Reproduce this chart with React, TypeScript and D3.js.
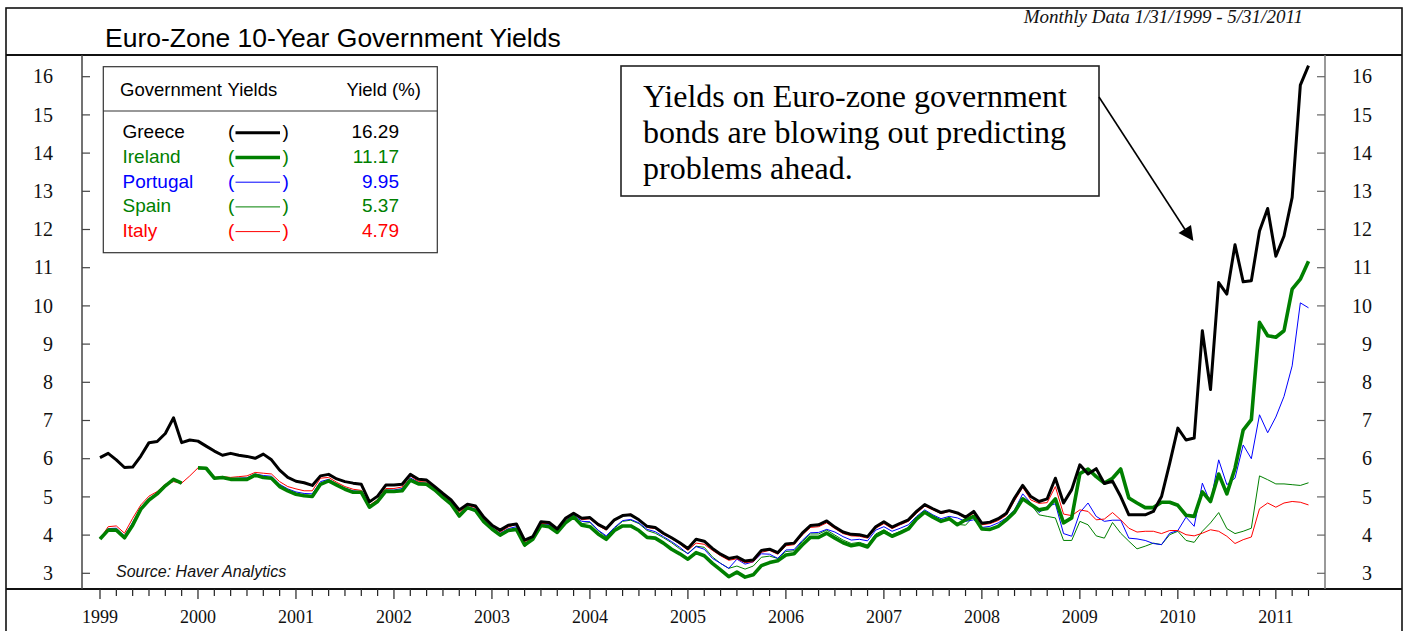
import React from "react";
import * as d3 from "d3";

// Monthly data, Jan 1999 (index 0) .. May 2011 (index 148)
const greece: (number | null)[] = [
  6.03, 6.14, 5.97, 5.77, 5.78, 6.07, 6.42, 6.45, 6.66, 7.07, 6.42, 6.49,
  6.46, 6.33, 6.20, 6.09, 6.14, 6.09, 6.06, 6.01, 6.12, 5.97, 5.70, 5.51,
  5.41, 5.37, 5.30, 5.55, 5.59, 5.47, 5.40, 5.36, 5.33, 4.87, 5.02, 5.31,
  5.31, 5.33, 5.59, 5.46, 5.44, 5.27, 5.09, 4.92, 4.66, 4.81, 4.76, 4.47,
  4.26, 4.13, 4.26, 4.29, 3.87, 3.96, 4.35, 4.33, 4.16, 4.44, 4.57, 4.44,
  4.46, 4.28, 4.17, 4.40, 4.51, 4.53, 4.40, 4.23, 4.20, 4.05, 3.93, 3.80,
  3.65, 3.89, 3.84, 3.65, 3.50, 3.39, 3.43, 3.32, 3.35, 3.60, 3.63, 3.54,
  3.77, 3.79, 4.05, 4.25, 4.27, 4.37, 4.21, 4.08, 4.02, 4.01, 3.96, 4.22,
  4.35, 4.21, 4.31, 4.40, 4.62, 4.80, 4.69, 4.59, 4.64, 4.58, 4.47, 4.62,
  4.31, 4.34, 4.43, 4.57, 4.97, 5.30, 5.01, 4.88, 4.95, 5.49, 4.84, 5.19,
  5.84, 5.60, 5.74, 5.35, 5.41, 5.01, 4.53, 4.53, 4.53, 4.62, 5.01, 5.88,
  6.80, 6.49, 6.54, 9.35, 7.81, 10.61, 10.31, 11.60, 10.63, 10.66, 11.96, 12.55,
  11.30, 11.83, 12.84, 15.78, 16.29,
];

const ireland: (number | null)[] = [
  3.90, 4.13, 4.13, 3.93, 4.26, 4.68, 4.92, 5.08, 5.29, 5.46, 5.36, null,
  5.76, 5.75, 5.49, 5.51, 5.46, 5.46, 5.46, 5.57, 5.51, 5.49, 5.27, 5.16,
  5.07, 5.03, 5.01, 5.33, 5.42, 5.31, 5.20, 5.12, 5.12, 4.73, 4.88, 5.15,
  5.14, 5.16, 5.44, 5.34, 5.33, 5.18, 4.99, 4.81, 4.50, 4.72, 4.64, 4.35,
  4.16, 4.00, 4.12, 4.15, 3.74, 3.89, 4.25, 4.22, 4.07, 4.32, 4.48, 4.26,
  4.22, 4.03, 3.89, 4.12, 4.24, 4.24, 4.12, 3.94, 3.92, 3.79, 3.63, 3.51,
  3.37, 3.54, 3.46, 3.26, 3.09, 2.91, 3.03, 2.90, 2.96, 3.20, 3.28, 3.33,
  3.48, 3.51, 3.74, 3.94, 3.94, 4.05, 3.92, 3.80, 3.72, 3.76, 3.69, 3.97,
  4.09, 3.97, 4.06, 4.16, 4.42, 4.60, 4.47, 4.36, 4.43, 4.27, 4.40, 4.49,
  4.16, 4.15, 4.23, 4.40, 4.60, 4.95, 4.80, 4.66, 4.70, 4.95, 4.32, 4.45,
  5.61, 5.73, 5.53, 5.36, 5.49, 5.73, 4.97, 4.84, 4.72, 4.72, 4.86, 4.86,
  4.78, 4.52, 4.49, 5.13, 4.88, 5.60, 5.08, 5.75, 6.75, 7.02, 9.57, 9.22,
  9.18, 9.35, 10.44, 10.70, 11.17,
];

const portugal: (number | null)[] = [
  3.92, 4.17, 4.18, 3.98, 4.33, 4.72, 4.96, 5.10, 5.30, 5.43, 5.36, null,
  5.76, 5.74, 5.50, 5.51, 5.48, 5.49, 5.50, 5.60, 5.56, 5.54, 5.33, 5.21,
  5.13, 5.09, 5.08, 5.40, 5.46, 5.34, 5.23, 5.16, 5.14, 4.75, 4.90, 5.18,
  5.18, 5.22, 5.50, 5.38, 5.36, 5.21, 5.02, 4.84, 4.55, 4.75, 4.68, 4.39,
  4.20, 4.05, 4.17, 4.22, 3.78, 3.92, 4.29, 4.28, 4.11, 4.38, 4.53, 4.36,
  4.35, 4.13, 3.98, 4.20, 4.38, 4.41, 4.32, 4.15, 4.09, 3.96, 3.83, 3.68,
  3.51, 3.70, 3.63, 3.39, 3.26, 3.13, 3.37, 3.24, 3.30, 3.51, 3.50, 3.39,
  3.61, 3.62, 3.86, 4.06, 4.07, 4.15, 4.08, 3.96, 3.87, 3.89, 3.85, 4.13,
  4.22, 4.10, 4.18, 4.27, 4.49, 4.66, 4.53, 4.43, 4.49, 4.45, 4.36, 4.40,
  4.20, 4.23, 4.32, 4.45, 4.66, 5.08, 4.84, 4.59, 4.75, 4.82, 4.04, 3.97,
  4.59, 4.84, 4.49, 4.36, 4.39, 4.39, 3.92, 3.90, 3.86, 3.78, 3.75, 4.05,
  4.12, 4.47, 4.23, 5.36, 4.84, 5.97, 5.32, 5.49, 6.36, 6.00, 7.15, 6.68,
  7.09, 7.63, 8.43, 10.08, 9.95,
];

const spain: (number | null)[] = [
  3.90, 4.14, 4.15, 3.94, 4.28, 4.69, 4.93, 5.09, 5.29, 5.45, 5.36, null,
  5.76, 5.75, 5.49, 5.51, 5.47, 5.47, 5.47, 5.58, 5.52, 5.50, 5.29, 5.17,
  5.08, 5.05, 5.03, 5.35, 5.43, 5.32, 5.21, 5.13, 5.13, 4.74, 4.89, 5.16,
  5.15, 5.18, 5.45, 5.35, 5.34, 5.19, 5.00, 4.82, 4.52, 4.73, 4.66, 4.37,
  4.18, 4.02, 4.13, 4.17, 3.70, 3.88, 4.27, 4.24, 4.09, 4.34, 4.50, 4.30,
  4.33, 4.12, 3.95, 4.18, 4.36, 4.39, 4.30, 4.12, 4.05, 3.93, 3.80, 3.64,
  3.52, 3.71, 3.68, 3.43, 3.26, 3.13, 3.19, 3.11, 3.19, 3.42, 3.45, 3.39,
  3.57, 3.59, 3.83, 4.03, 4.03, 4.13, 4.00, 3.87, 3.78, 3.81, 3.74, 4.03,
  4.14, 4.01, 4.10, 4.20, 4.44, 4.61, 4.49, 4.38, 4.45, 4.28, 4.26, 4.49,
  4.18, 4.17, 4.24, 4.40, 4.60, 4.95, 4.80, 4.53, 4.49, 4.45, 3.86, 3.86,
  4.36, 4.27, 3.98, 3.92, 4.33, 4.05, 3.84, 3.64, 3.71, 3.79, 3.75, 4.01,
  4.10, 3.86, 3.81, 4.10, 4.32, 4.59, 4.17, 4.04, 4.10, 4.18, 5.55, 5.45,
  5.34, 5.34, 5.32, 5.30, 5.37,
];

const italy: (number | null)[] = [
  3.90, 4.22, 4.24, 4.05, 4.44, 4.79, 5.02, 5.14, 5.33, 5.40, 5.36, 5.55,
  5.76, 5.75, 5.51, 5.53, 5.51, 5.53, 5.55, 5.64, 5.62, 5.60, 5.40, 5.27,
  5.21, 5.16, 5.16, 5.49, 5.51, 5.38, 5.27, 5.20, 5.17, 4.78, 4.93, 5.22,
  5.22, 5.26, 5.55, 5.40, 5.39, 5.24, 5.05, 4.88, 4.60, 4.78, 4.72, 4.43,
  4.24, 4.08, 4.21, 4.29, 3.83, 3.92, 4.30, 4.30, 4.12, 4.40, 4.56, 4.40,
  4.43, 4.25, 4.13, 4.38, 4.52, 4.55, 4.39, 4.20, 4.17, 4.02, 3.91, 3.77,
  3.60, 3.79, 3.76, 3.60, 3.46, 3.34, 3.38, 3.28, 3.30, 3.55, 3.60, 3.50,
  3.72, 3.75, 4.00, 4.20, 4.22, 4.32, 4.17, 4.04, 3.98, 3.97, 3.92, 4.18,
  4.30, 4.17, 4.27, 4.36, 4.57, 4.76, 4.66, 4.56, 4.62, 4.56, 4.44, 4.57,
  4.27, 4.30, 4.38, 4.52, 4.90, 5.25, 4.92, 4.83, 4.85, 5.27, 4.55, 4.51,
  4.66, 4.62, 4.40, 4.42, 4.59, 4.40, 4.18, 4.08, 4.10, 4.10, 4.04, 4.12,
  4.12, 4.01, 3.98, 4.05, 4.14, 4.10, 3.97, 3.78, 3.88, 3.95, 4.69, 4.84,
  4.73, 4.84, 4.88, 4.86, 4.79,
];

const yearLabels = ["1999", "2000", "2001", "2002", "2003", "2004", "2005", "2006", "2007", "2008", "2009", "2010", "2011"];
const yTicks = [3, 4, 5, 6, 7, 8, 9, 10, 11, 12, 13, 14, 15, 16];

const legendNames = ["Greece", "Ireland", "Portugal", "Spain", "Italy"];
const legendValues = ["16.29", "11.17", "9.95", "5.37", "4.79"];
const seriesColors = ["#000000", "#008000", "#0000ff", "#008000", "#ff0000"];
const seriesWidths = [3, 3.6, 1, 1, 1];

const title = "Euro-Zone 10-Year Government Yields";
const subtitle = "Monthly Data 1/31/1999 - 5/31/2011";
const source = "Source: Haver Analytics";
const noteLines = [
  "Yields on Euro-zone government",
  "bonds are blowing out predicting",
  "problems ahead.",
];

const SANS = "'Liberation Sans', Arial, sans-serif";
const SERIF = "'Liberation Serif', 'Times New Roman', serif";

export default function App() {
  const x = d3.scaleLinear().domain([0, 148]).range([100, 1308.5]);
  const y = d3.scaleLinear().domain([3, 16]).range([573.3, 76.7]);
  const lineGen = d3
    .line<number | null>()
    .defined((d) => d != null)
    .x((_, i) => x(i))
    .y((d) => y(d as number));

  const series = [greece, ireland, portugal, spain, italy];
  const drawOrder = [3, 2, 4, 1, 0];

  const monthTicks = d3.range(0, 149, 2);

  const legendTop = 138.3;
  const legendStep = 24.7;

  return (
    <svg
      width={1409}
      height={631}
      style={{ position: "absolute", left: 0, top: 0, background: "#fff" }}
    >
      <rect x={0} y={0} width={1409} height={631} fill="#fff" />
      {/* outer frame */}
      <rect x={6} y={8} width={1396} height={640} fill="none" stroke="#111" strokeWidth={1.6} />
      <line x1={6} x2={1402} y1={55} y2={55} stroke="#111" strokeWidth={1.8} />
      <line x1={6} x2={1402} y1={589} y2={589} stroke="#111" strokeWidth={2} />
      {/* axes */}
      <line x1={82} x2={82} y1={55} y2={589} stroke="#444" strokeWidth={1.5} />
      <line x1={1325} x2={1325} y1={55} y2={589} stroke="#777" strokeWidth={1.5} />

      {/* titles */}
      <text x={105} y={47} fontFamily={SANS} fontSize={26.5} fill="#000">
        {title}
      </text>
      <text x={1303} y={23} fontFamily={SERIF} fontStyle="italic" fontSize={19} textAnchor="end" fill="#111">
        {subtitle}
      </text>

      {/* y ticks and labels */}
      {yTicks.map((t) => (
        <g key={"yt" + t}>
          <line x1={82} x2={90} y1={y(t)} y2={y(t)} stroke="#444" strokeWidth={1.2} />
          <line x1={1317} x2={1325} y1={y(t)} y2={y(t)} stroke="#666" strokeWidth={1.2} />
          <text x={53} y={y(t) + 6.7} fontFamily={SERIF} fontSize={20} textAnchor="end" fill="#111">
            {t}
          </text>
          <text x={1372} y={y(t) + 6.7} fontFamily={SERIF} fontSize={20} textAnchor="end" fill="#111">
            {t}
          </text>
        </g>
      ))}

      {/* x ticks */}
      {monthTicks.map((m) => (
        <line
          key={"xt" + m}
          x1={x(m)}
          x2={x(m)}
          y1={589}
          y2={m % 12 === 0 ? 599 : 596}
          stroke="#222"
          strokeWidth={1.2}
        />
      ))}
      {yearLabels.map((lab, k) => (
        <text key={lab} x={x(k * 12)} y={623} fontFamily={SERIF} fontSize={18} textAnchor="middle" fill="#111">
          {lab}
        </text>
      ))}

      {/* series */}
      {drawOrder.map((s) => (
        <path
          key={"s" + s}
          d={lineGen(series[s]) || ""}
          fill="none"
          stroke={seriesColors[s]}
          strokeWidth={seriesWidths[s]}
          strokeLinejoin="round"
        />
      ))}

      {/* legend */}
      <rect x={103.3} y={66.7} width={334} height={186} fill="#fff" stroke="#333" strokeWidth={1.2} />
      <line x1={103.3} x2={437.3} y1={111} y2={111} stroke="#333" strokeWidth={1.2} />
      <text x={120} y={96} fontFamily={SANS} fontSize={18.5} fill="#000">
        Government
      </text>
      <text x={227.5} y={96} fontFamily={SANS} fontSize={18.5} fill="#000">
        Yields
      </text>
      <text x={346.5} y={96} fontFamily={SANS} fontSize={18.5} fill="#000">
        Yield (%)
      </text>
      {legendNames.map((name, k) => {
        const by = legendTop + k * legendStep;
        return (
          <g key={"lg" + name}>
            <text x={122.5} y={by} fontFamily={SANS} fontSize={19} fill={seriesColors[k]}>
              {name}
            </text>
            <text x={228} y={by} fontFamily={SANS} fontSize={19} fill={seriesColors[k]}>
              (
            </text>
            <line
              x1={235.5}
              x2={280}
              y1={by - 5.5}
              y2={by - 5.5}
              stroke={seriesColors[k]}
              strokeWidth={seriesWidths[k]}
            />
            <text x={282.5} y={by} fontFamily={SANS} fontSize={19} fill={seriesColors[k]}>
              )
            </text>
            <text x={399} y={by} fontFamily={SANS} fontSize={19} textAnchor="end" fill={seriesColors[k]}>
              {legendValues[k]}
            </text>
          </g>
        );
      })}

      {/* source */}
      <text x={116} y={577.3} fontFamily={SANS} fontStyle="italic" fontSize={16} fill="#111">
        {source}
      </text>

      {/* annotation */}
      <rect x={621} y={66} width={478} height={130} fill="#fff" stroke="#222" strokeWidth={1.6} />
      {noteLines.map((ln, k) => (
        <text key={"n" + k} x={643} y={107 + k * 36} fontFamily={SERIF} fontSize={32} fill="#000">
          {ln}
        </text>
      ))}
      <line x1={1099} y1={97} x2={1186} y2={231} stroke="#000" strokeWidth={1.6} />
      <polygon points="1193.4,241 1178.5,233 1191,225" fill="#000" />
    </svg>
  );
}
